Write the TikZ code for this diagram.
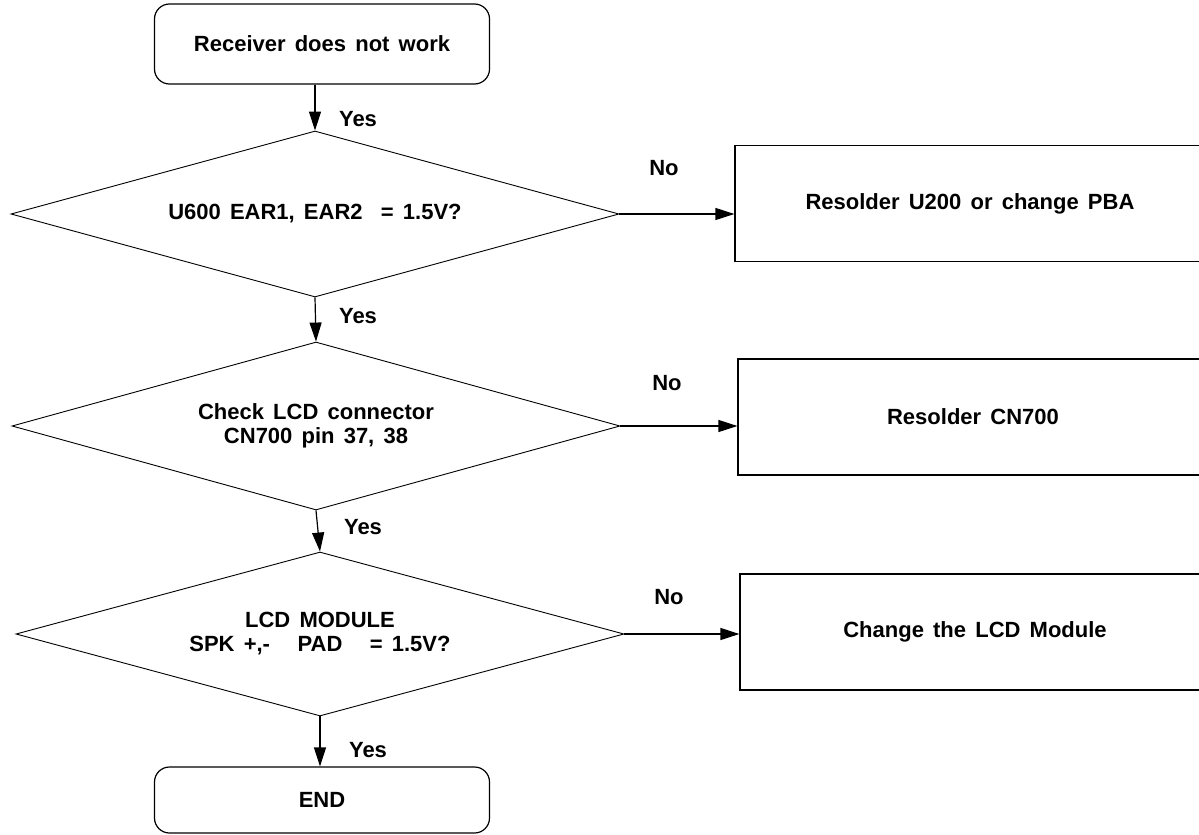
\documentclass[tikz,border=0pt]{standalone}
\usepackage{fontspec}
\setmainfont{Liberation Sans}[WordSpace=1.5]
\usetikzlibrary{shapes.geometric,arrows.meta}
\tikzset{
  endbox/.style={draw,line width=1.2pt,rounded corners=15pt,minimum width=335pt},
  decision/.style={draw,diamond,aspect=3.66,line width=0.9pt,inner sep=0pt,align=center,minimum width=608pt},
  actbox/.style={draw,line width=1.2pt,minimum width=470pt,minimum height=116pt},
  flow/.style={line width=1.2pt,-{Triangle[length=19pt,width=12pt]}}
}
\begin{document}
\begin{tikzpicture}[x=1pt,y=-1pt,font=\fontsize{22}{24}\selectfont\bfseries]
\useasboundingbox (0,0) rectangle (1199,835);
\node[endbox,minimum height=80pt] (start) at (322,44) {Receiver does not work};
\node[decision,minimum height=166pt] (d1) at (315,214) {U600 EAR1, EAR2 \ = 1.5V?};
\node[decision,minimum height=168pt] (d2) at (316,426) {Check LCD connector\\CN700 pin 37, 38};
\node[decision,minimum height=164pt] (d3) at (320,634) {LCD MODULE\\SPK +,- \ \ PAD \ \ = 1.5V?};
\node[endbox,minimum height=66pt] (end) at (322,800) {END};
\node[actbox] (b1) at (970,203.5) {Resolder U200 or change PBA};
\node[actbox] (b2) at (973,417) {Resolder CN700};
\node[actbox] (b3) at (975,632) {Change the LCD Module};
\draw[flow] (d1.north |- start.south) -- (d1.north);
\draw[flow] (d1.south) -- (d2.north);
\draw[flow] (d2.south) -- (d3.north);
\draw[flow] (d3.south) -- (d3.south |- end.north);
\draw[flow] (d1.east) -- (d1.east -| b1.west);
\draw[flow] (d2.east) -- (d2.east -| b2.west);
\draw[flow] (d3.east) -- (d3.east -| b3.west);
\node (yes1) at (358,119) {Yes};
\node (yes2) at (358,316) {Yes};
\node (yes3) at (363,527) {Yes};
\node (yes4) at (368,750) {Yes};
\node (no1) at (664,168) {No};
\node (no2) at (667,383) {No};
\node (no3) at (669,597) {No};
\end{tikzpicture}
\end{document}
